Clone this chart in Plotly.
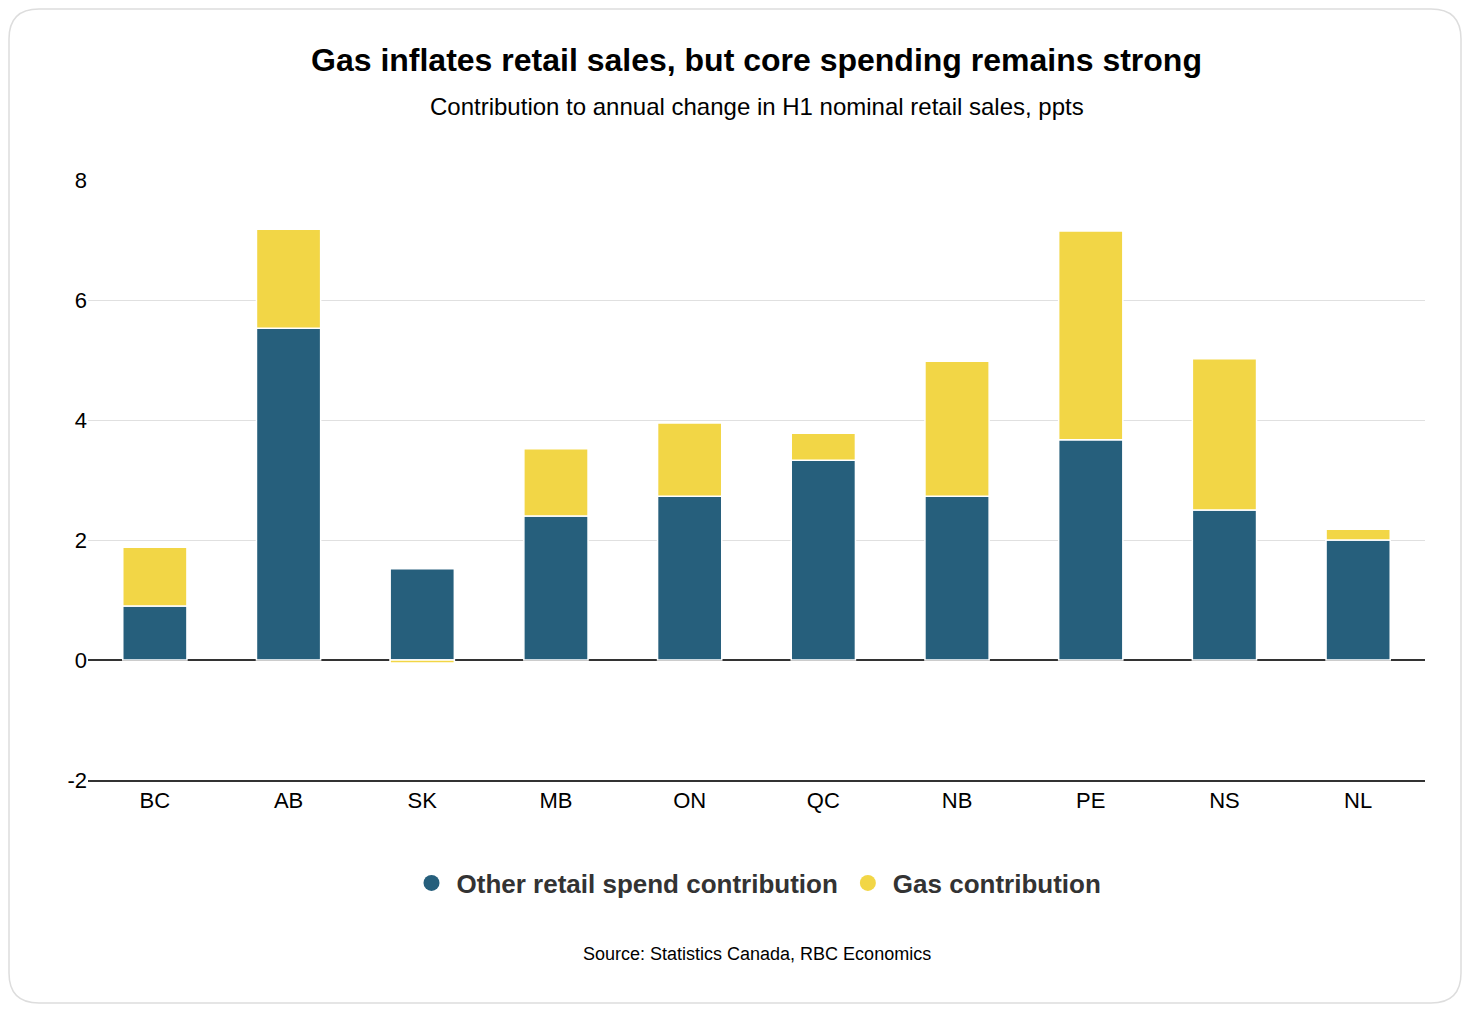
import plotly.graph_objects as go

provinces = ["BC", "AB", "SK", "MB", "ON", "QC", "NB", "PE", "NS", "NL"]
other = [0.90, 5.53, 1.52, 2.40, 2.73, 3.33, 2.73, 3.67, 2.50, 2.00]
gas = [0.98, 1.65, -0.05, 1.12, 1.22, 0.45, 2.25, 3.48, 2.52, 0.18]
yticks = [-2, 0, 2, 4, 6, 8]
BLUE, YEL = "#265f7c", "#f2d646"

fig = go.Figure()
fig.add_bar(x=provinces, y=other, marker=dict(color=BLUE, line=dict(color="white", width=1.5)),
            width=0.48, showlegend=False, name="Other retail spend contribution")
fig.add_bar(x=provinces, y=gas, marker=dict(color=YEL, line=dict(color="white", width=1.5)),
            width=0.48, showlegend=False, name="Gas contribution")
for nm, c in [("Other retail spend contribution", BLUE), ("Gas contribution", YEL)]:
    fig.add_scatter(x=[None], y=[None], mode="markers", name="<b>" + nm + "</b>",
                    marker=dict(symbol="circle", size=28, color=c))

OFF = 8
FW, FH = 1470 - 2 * OFF, 1012 - 2 * OFF
L, R, T, B = 88 - OFF, 45 - OFF, 180 - OFF, 232 - OFF
W, H = FW - L - R, FH - T - B
def px(x): return (x - OFF - L) / W
def py(y): return (FH - B - (y - OFF)) / H
x0, x1, y0, y1 = px(9), px(1461), py(1003), py(9)
rx, ry = 30 / W, 30 / H
path = (f"M {x0+rx},{y1} L {x1-rx},{y1} Q {x1},{y1} {x1},{y1-ry} L {x1},{y0+ry} "
        f"Q {x1},{y0} {x1-rx},{y0} L {x0+rx},{y0} Q {x0},{y0} {x0},{y0+ry} "
        f"L {x0},{y1-ry} Q {x0},{y1} {x0+rx},{y1} Z")

fig.update_layout(
    width=FW, height=FH, barmode="relative",
    margin=dict(l=L, r=R, t=T, b=B),
    paper_bgcolor="white", plot_bgcolor="white",
    font=dict(family="Liberation Sans, Arial", color="#000"),
    shapes=[dict(type="path", path=path, xref="paper", yref="paper",
                 line=dict(color="#dddddd", width=1.5), layer="below")],
    annotations=[
        dict(text="<b>Gas inflates retail sales, but core spending remains strong</b>",
             x=0.5, xref="paper", y=py(60), yref="paper", yanchor="middle",
             showarrow=False, font=dict(size=32)),
        dict(text="Contribution to annual change in H1 nominal retail sales, ppts",
             x=0.5, xref="paper", y=py(106), yref="paper", yanchor="middle",
             showarrow=False, font=dict(size=24)),
        dict(text="Source: Statistics Canada, RBC Economics",
             x=0.5, xref="paper", y=py(954), yref="paper", yanchor="middle",
             showarrow=False, font=dict(size=18)),
    ],
    legend=dict(orientation="h", x=0.5, xanchor="center", y=py(883), yanchor="middle",
                font=dict(size=26, color="#333"), itemsizing="trace", entrywidth=40,
                entrywidthmode="pixels"),
    yaxis=dict(range=[-2, 8], tickvals=yticks, ticktext=[str(v) for v in yticks],
               showgrid=True, gridcolor="#e0e0e0",
               zeroline=True, zerolinecolor="#333", zerolinewidth=1.5,
               showline=False, tickfont=dict(size=22), ticks="", ticklen=0),
    xaxis=dict(showline=True, linecolor="#333", linewidth=1.5, tickfont=dict(size=22)),
)
fig.update_layout(legend=dict(entrywidth=None))
fig.update_layout(legend=dict(traceorder="normal", itemwidth=40))
fig.write_html("out.html")
